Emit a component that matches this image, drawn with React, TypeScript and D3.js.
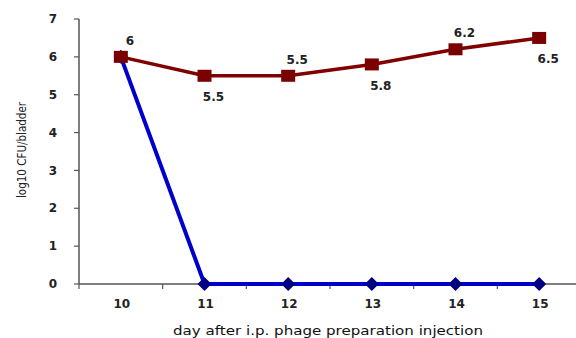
import React from "react";
import * as d3 from "d3";

const days = ["10", "11", "12", "13", "14", "15"];
const treated = [6, 0, 0, 0, 0, 0];
const control = [6, 5.5, 5.5, 5.8, 6.2, 6.5];
const labelAbove = [true, false, true, false, true, false];
const yTicks = [0, 1, 2, 3, 4, 5, 6, 7];

const W = 576;
const H = 338;
const left = 79;
const right = 581;
const top = 19;
const bottom = 284;

export default function App() {
  const x = d3.scaleBand<string>().domain(days).range([left, right]);
  const y = d3.scaleLinear().domain([0, 7]).range([bottom, top]);
  const cx = (d: string) => (x(d) ?? 0) + x.bandwidth() / 2;

  const line = d3
    .line<[string, number]>()
    .x((d) => cx(d[0]))
    .y((d) => y(d[1]));

  const ctrlPts: [string, number][] = days.map((d, i) => [d, control[i]]);
  const trtPts: [string, number][] = days.map((d, i) => [d, treated[i]]);
  const font = "'DejaVu Sans', Verdana, sans-serif";

  return (
    <svg
      width={W}
      height={H}
      style={{ position: "absolute", left: 0, top: 0, background: "#fff" }}
      fontFamily={font}
    >
      {/* y axis */}
      <line x1={left} x2={left} y1={top} y2={bottom} stroke="#555" strokeWidth={1.5} />
      {yTicks.map((t) => (
        <g key={t}>
          <line x1={left - 5} x2={left} y1={y(t)} y2={y(t)} stroke="#555" strokeWidth={1.2} />
          <text
            x={left - 22}
            y={y(t)}
            dy="0.35em"
            textAnchor="end"
            fontSize={12}
            fontWeight="bold"
            fill="#222"
          >
            {t}
          </text>
        </g>
      ))}
      <text
        transform={`translate(26,150) rotate(-90)`}
        textAnchor="middle"
        fontSize={12}
        textLength={96}
        lengthAdjust="spacingAndGlyphs"
        fill="#222"
      >
        log10 CFU/bladder
      </text>

      {/* x axis */}
      <line x1={left} x2={W} y1={bottom} y2={bottom} stroke="#555" strokeWidth={1.5} />
      {days.map((d) => (
        <line
          key={"t" + d}
          x1={x(d)}
          x2={x(d)}
          y1={bottom}
          y2={bottom + 5}
          stroke="#555"
          strokeWidth={1.2}
        />
      ))}
      {days.map((d) => (
        <text
          key={"l" + d}
          x={cx(d) + 1}
          y={bottom + 20}
          dy="0.35em"
          textAnchor="middle"
          fontSize={12}
          fontWeight="bold"
          fill="#222"
        >
          {d}
        </text>
      ))}
      <text
        x={328}
        y={335}
        textAnchor="middle"
        fontSize={12.5}
        textLength={310}
        lengthAdjust="spacingAndGlyphs"
        fill="#111"
      >
        day after i.p. phage preparation injection
      </text>

      {/* treated series */}
      <path d={line(trtPts) ?? ""} fill="none" stroke="#0000cc" strokeWidth={4} />
      {trtPts.map(([d, v]) => (
        <path
          key={"b" + d}
          transform={`translate(${cx(d)},${y(v)})`}
          d="M0,-7L7,0L0,7L-7,0Z"
          fill="#000080"
        />
      ))}

      {/* control series */}
      <path d={line(ctrlPts) ?? ""} fill="none" stroke="#800000" strokeWidth={3.5} />
      {ctrlPts.map(([d, v]) => (
        <rect
          key={"r" + d}
          x={cx(d) - 7}
          y={y(v) - 6}
          width={14}
          height={12}
          fill="#7a0000"
        />
      ))}
      {ctrlPts.map(([d, v], i) => (
        <text
          key={"v" + d}
          x={cx(d) + 9}
          y={y(v) + (labelAbove[i] ? -16 : 21)}
          dy="0.35em"
          textAnchor="middle"
          fontSize={12}
          fontWeight="bold"
          fill="#222"
        >
          {v}
        </text>
      ))}
    </svg>
  );
}
